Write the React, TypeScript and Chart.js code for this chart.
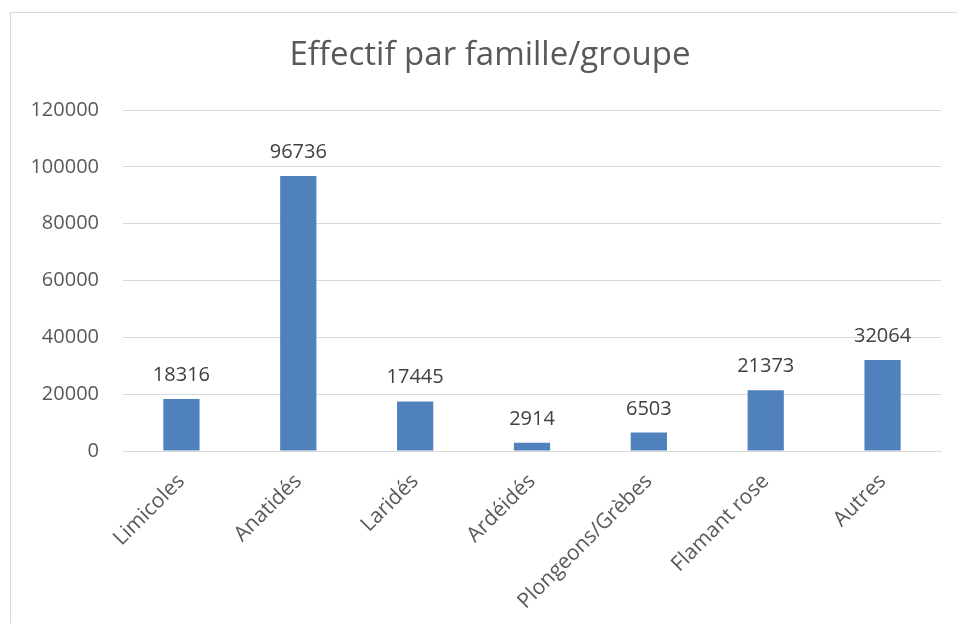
import React, { useEffect, useRef } from "react";
import { Chart, registerables } from "chart.js";

Chart.register(...registerables);

const categories = ["Limicoles", "Anatidés", "Laridés", "Ardéidés", "Plongeons/Grèbes", "Flamant rose", "Autres"];
const values = [18316, 96736, 17445, 2914, 6503, 21373, 32064];
const titleText = "Effectif par famille/groupe";
const yMin = 0;
const yMax = 120000;
const yStep = 20000;

const FONT = "'Open Sans', sans-serif";

const dataLabels = {
  id: "dataLabels",
  afterDatasetsDraw(chart: any) {
    const ctx = chart.ctx;
    const meta = chart.getDatasetMeta(0);
    ctx.save();
    ctx.font = `20px ${FONT}`;
    ctx.fillStyle = "#404040";
    ctx.textAlign = "center";
    ctx.textBaseline = "alphabetic";
    meta.data.forEach((bar: any, i: number) => {
      ctx.fillText(String(values[i]), bar.x, bar.y - 18);
    });
    ctx.restore();
  },
};

const chartTitle = {
  id: "chartTitle",
  afterDraw(chart: any) {
    const ctx = chart.ctx;
    ctx.save();
    ctx.font = `33px ${FONT}`;
    ctx.fillStyle = "#595959";
    ctx.textAlign = "center";
    ctx.textBaseline = "middle";
    ctx.fillText(titleText, 490, 56);
    ctx.restore();
  },
};

export default function App() {
  const ref = useRef<HTMLCanvasElement>(null);
  useEffect(() => {
    if (!ref.current) return;
    const chart = new Chart(ref.current, {
      type: "bar",
      data: {
        labels: categories,
        datasets: [
          {
            data: values,
            backgroundColor: "#4F81BD",
            borderWidth: 0,
            categoryPercentage: 1,
            barPercentage: 0.31,
          },
        ],
      },
      options: {
        animation: false,
        responsive: false,
        devicePixelRatio: 1,
        layout: { padding: { left: 0, right: 16, top: 110, bottom: 0 } },
        plugins: {
          legend: { display: false },
          tooltip: { enabled: false },
          title: { display: false },
        },
        scales: {
          x: {
            grid: { display: false },
            border: { color: "#d9d9d9", width: 1 },
            ticks: {
              color: "#595959",
              font: { family: FONT, size: 21 },
              maxRotation: 45,
              minRotation: 45,
              padding: 10,
              autoSkip: false,
            },
            afterFit: (s: any) => {
              s.height = 172;
            },
          },
          y: {
            min: yMin,
            max: yMax,
            grid: { color: "#d9d9d9", lineWidth: 1, drawTicks: false },
            border: { display: false },
            ticks: {
              stepSize: yStep,
              color: "#595959",
              font: { family: FONT, size: 20 },
              padding: 24,
              callback: (v: any) => String(v),
            },
            afterFit: (s: any) => {
              s.width = 123;
            },
          },
        },
      },
      plugins: [dataLabels, chartTitle],
    });
    return () => chart.destroy();
  }, []);

  return (
    <div style={{ position: "fixed", left: 0, top: 0, width: 957, height: 623, background: "#fff" }}>
      <div
        style={{
          position: "absolute",
          left: 10,
          top: 12,
          width: 957,
          height: 623,
          borderTop: "1px solid #d9d9d9",
          borderLeft: "1px solid #d9d9d9",
        }}
      />
      <canvas ref={ref} width={957} height={623} style={{ position: "absolute", left: 0, top: 0 }} />
    </div>
  );
}
